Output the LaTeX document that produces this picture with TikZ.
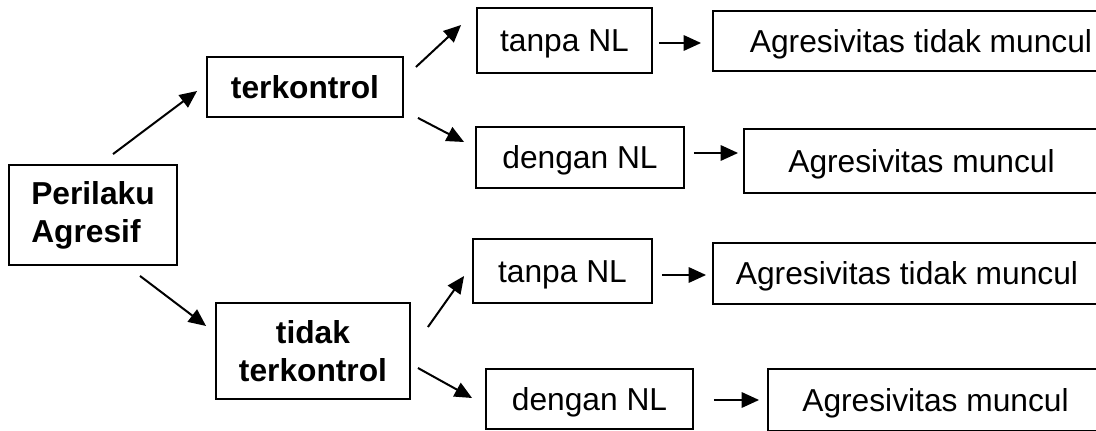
\documentclass[tikz,border=0pt]{standalone}
\usepackage{fontspec}
\setmainfont{Liberation Sans}
\usetikzlibrary{arrows.meta,calc}

\begin{document}
\begin{tikzpicture}[x=0.75pt,y=0.75pt,yscale=-1,xscale=1,
    kotak/.style={draw,line width=1.4pt,inner sep=0.75pt,text height=17.5pt,text depth=0.5pt,font=\fontsize{23.8}{28.5}\selectfont},
    tebal/.style={draw,line width=1.4pt,inner sep=0.75pt,font=\fontsize{23.8}{28.5}\selectfont\bfseries},
    panah/.style={line width=1.5pt,-{Triangle[length=13pt,width=11.5pt]}}]
                \useasboundingbox (0,0) rectangle (1096,431);

                % Text Node
                \node[tebal,align=left,minimum width=126pt,minimum height=75pt] (perilaku) at (93,215) {Perilaku\\Agresif};
                % Text Node
                \node[tebal,text height=17.5pt,text depth=0.5pt,minimum width=147pt,minimum height=45pt] (terk) at (305,87) {terkontrol};
                % Text Node
                \node[tebal,align=center,minimum width=145.5pt,minimum height=72pt] (tidak) at (313,351) {tidak\\terkontrol};

                % Text Node
                \node[kotak,minimum width=131.25pt,minimum height=48.75pt] (tanpa1) at (564.5,40.5) {tanpa NL};
                % Text Node
                \node[kotak,minimum width=156pt,minimum height=45.75pt] (dengan1) at (580,157.5) {dengan NL};
                % Text Node
                \node[kotak,minimum width=134.25pt,minimum height=48pt] (tanpa2) at (562.5,271) {tanpa NL};
                % Text Node
                \node[kotak,minimum width=155.25pt,minimum height=45pt] (dengan2) at (589.5,399) {dengan NL};

                % Text Node
                \node[kotak,minimum width=312pt,minimum height=45pt] (agr1) at (921,41) {Agresivitas tidak muncul};
                % Text Node
                \node[kotak,minimum width=266.25pt,minimum height=48pt] (agr2) at (921.5,161) {Agresivitas muncul};
                % Text Node
                \node[kotak,minimum width=291pt,minimum height=45.75pt] (agr3) at (907,273.5) {Agresivitas tidak muncul};
                % Text Node
                \node[kotak,minimum width=251.25pt,minimum height=46.5pt] (agr4) at (935.5,400) {Agresivitas muncul};

                %Straight Lines
                \draw[panah] ($(perilaku.north)+(20,-10)$) -- ($(terk.west)+(-9,4)$);
                %Straight Lines
                \draw[panah] ($(perilaku.south)+(47,10)$) -- ($(tidak.west)+(-9,-25)$);
                %Straight Lines
                \draw[panah] ($(terk.east)+(12,-20)$) -- ($(tanpa1.west)+(-15,-15.5)$);
                %Straight Lines
                \draw[panah] ($(terk.south east)+(14,0)$) -- ($(dengan1.west)+(-11,-15.5)$);
                %Straight Lines
                \draw[panah] ($(tidak.east)+(17,-24)$) -- ($(tanpa2.west)+(-8,5)$);
                %Straight Lines
                \draw[panah] ($(tidak.east)+(7,17)$) -- ($(dengan2.west)+(-13,-1)$);

                %Straight Lines
                \draw[panah] ($(tanpa1.east)+(6,2.5)$) -- ($(agr1.west)+(-11,2)$);
                %Straight Lines
                \draw[panah] ($(dengan1.east)+(9,-4.5)$) -- ($(agr2.west)+(-5,-8)$);
                %Straight Lines
                \draw[panah] ($(tanpa2.east)+(9,4)$) -- ($(agr3.west)+(-6,1.5)$);
                %Straight Lines
                \draw[panah] ($(dengan2.east)+(20,1)$) -- ($(agr4.west)+(-8,0)$);

            \end{tikzpicture}
\end{document}
